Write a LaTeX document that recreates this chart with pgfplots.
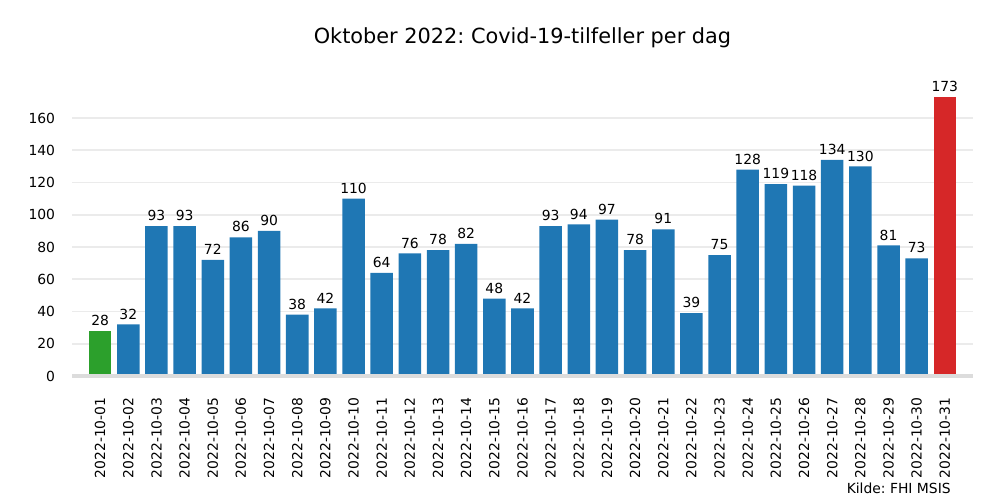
\documentclass[border=0pt]{standalone}
\usepackage{pgfplots}
\pgfplotsset{compat=1.18}
\usepackage{fontspec}
\setmainfont{DejaVu Sans}
\frenchspacing
\definecolor{tabblue}{HTML}{1F77B4}
\definecolor{tabgreen}{HTML}{2CA02C}
\definecolor{tabred}{HTML}{D62728}
\definecolor{gridgray}{HTML}{EBEBEB}
\definecolor{spinegray}{HTML}{DCDCDC}

\begin{document}
\begin{tikzpicture}
\path[use as bounding box] (0,0) rectangle (720pt,360pt);
\begin{axis}[
  at={(51.84pt,89.28pt)},
  anchor=south west,
  scale only axis,
  width=648.7pt,
  height=210.96pt,
  xmin=-1, xmax=31,
  ymin=0, ymax=181.7,
  ybar,
  bar width=0.8,
  bar shift=0pt,
  axis line style={draw=none},
  tick style={draw=none},
  ytick={0,20,...,160},
  ymajorgrids=true,
  major grid style={gridgray, line width=1.2pt},
  xtick={0,...,30},
  xticklabels={2022-10-01,2022-10-02,2022-10-03,2022-10-04,2022-10-05,2022-10-06,2022-10-07,2022-10-08,2022-10-09,2022-10-10,2022-10-11,2022-10-12,2022-10-13,2022-10-14,2022-10-15,2022-10-16,2022-10-17,2022-10-18,2022-10-19,2022-10-20,2022-10-21,2022-10-22,2022-10-23,2022-10-24,2022-10-25,2022-10-26,2022-10-27,2022-10-28,2022-10-29,2022-10-30,2022-10-31},
  xticklabel style={rotate=90, anchor=east, font=\fontsize{10}{12}\selectfont, inner sep=0pt},
  xticklabel shift=11pt,
  yticklabel style={font=\fontsize{10}{12}\selectfont, inner sep=0pt},
  yticklabel shift=12pt,
  /pgf/number format/assume math mode=true,
  nodes near coords,
  every node near coord/.append style={font=\fontsize{10}{12}\selectfont, black, anchor=south, inner sep=0pt, yshift=3.5pt},
  clip=false,
]
\addplot[draw=none, fill=tabgreen] coordinates {(0,28)};
\addplot[draw=none, fill=tabblue] coordinates {
(1,32) (2,93) (3,93) (4,72) (5,86) (6,90) (7,38) (8,42) (9,110) (10,64)
(11,76) (12,78) (13,82) (14,48) (15,42) (16,93) (17,94) (18,97) (19,78) (20,91)
(21,39) (22,75) (23,128) (24,119) (25,118) (26,134) (27,130) (28,81) (29,73)
};
\addplot[draw=none, fill=tabred] coordinates {(30,173)};
\draw[spinegray, line width=2.2pt] (rel axis cs:0,0) -- (rel axis cs:1,0);
\end{axis}
\node[font=\fontsize{15}{18}\selectfont, anchor=base] at (376.2pt,329pt) {Oktober 2022: Covid-19-tilfeller per dag};
\node[font=\fontsize{10}{12}\selectfont, anchor=base east, inner sep=0pt] at (684.7pt,5pt) {Kilde: FHI MSIS};
\end{tikzpicture}
\end{document}
